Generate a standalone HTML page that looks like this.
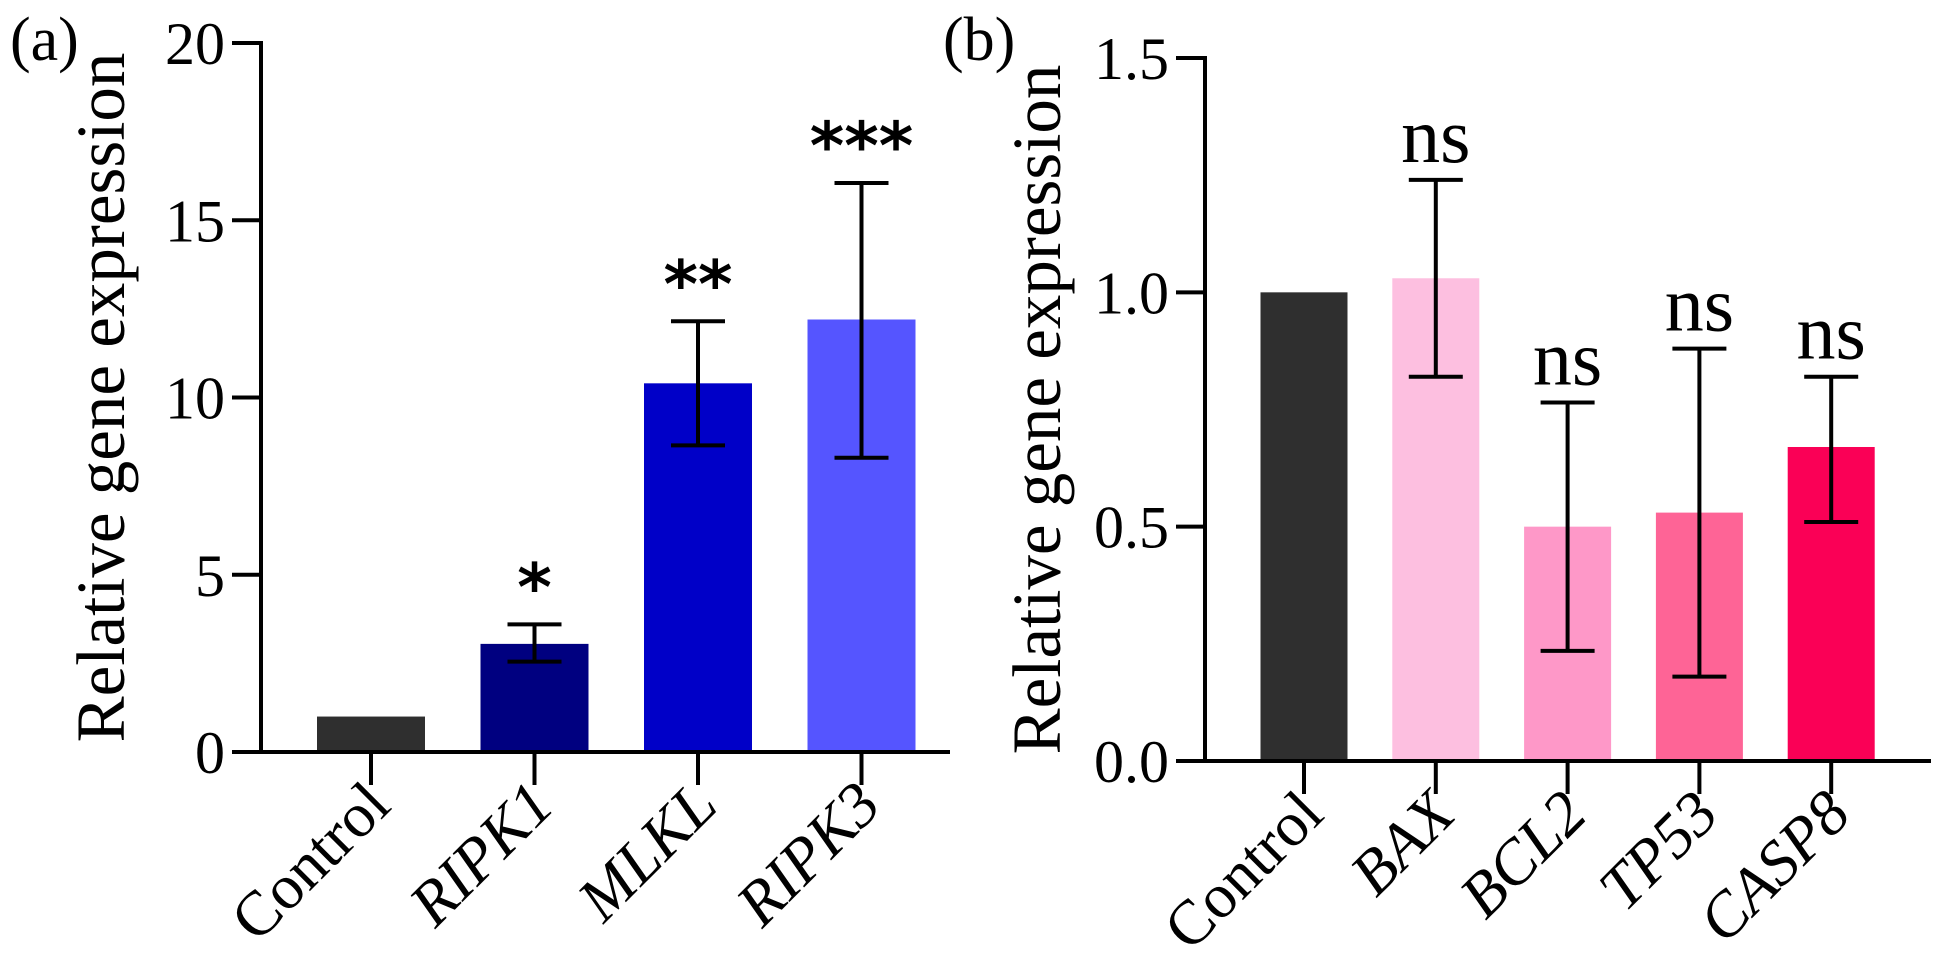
<!DOCTYPE html>
<html><head><meta charset="utf-8"><style>
html,body{margin:0;padding:0;background:#fff}
svg{display:block;font-family:"Liberation Serif",serif}
</style></head><body>
<svg id="chart" width="1933" height="979" viewBox="0 0 1933 979">
<g id="pa"></g>
<g id="pb"></g>
</svg>
<script>
const aCategories=["Control","RIPK1","MLKL","RIPK3"];
const aValues=[1,3.05,10.4,12.2];
const aErrLow=[1,2.55,8.65,8.3];
const aErrHigh=[1,3.6,12.15,16.05];
const aSig=["","*","**","***"];
const aTicks=[0,5,10,15,20];
const aColors=["#2f2f2f","#000080","#0000c8","#5555ff"];

const bCategories=["Control","BAX","BCL2","TP53","CASP8"];
const bValues=[1,1.03,0.5,0.53,0.67];
const bErrLow=[1,0.82,0.235,0.18,0.51];
const bErrHigh=[1,1.24,0.765,0.88,0.82];
const bSig=["","ns","ns","ns","ns"];
const bTicks=["0.0","0.5","1.0","1.5"];
const bColors=["#2f2f2f","#fdbfe0","#fe98c8","#fe6496","#fa0056"];

const NS="http://www.w3.org/2000/svg";
function mk(parent,tag,attrs,text){const e=document.createElementNS(NS,tag);for(const k in attrs)e.setAttribute(k,attrs[k]);if(text!==undefined)e.textContent=text;parent.appendChild(e);return e;}

function drawPanel(g,cfg){
  const y=v=>cfg.y0-(v-cfg.min)/(cfg.max-cfg.min)*(cfg.y0-cfg.yTop);
  const x=i=>cfg.x0+i*cfg.step;
  cfg.values.forEach((v,i)=>{
    const r=mk(g,'rect',{x:x(i)-cfg.bw/2,y:y(v),width:cfg.bw,height:cfg.y0-y(v),fill:cfg.colors[i]});
    
    
  });
  cfg.values.forEach((v,i)=>{
    if(cfg.hi[i]===cfg.lo[i])return;
    const eg=mk(g,'g',{stroke:'#000','stroke-width':4});
    
    
    mk(eg,'line',{x1:x(i),x2:x(i),y1:y(cfg.lo[i]),y2:y(cfg.hi[i])});
    mk(eg,'line',{x1:x(i)-27,x2:x(i)+27,y1:y(cfg.lo[i]),y2:y(cfg.lo[i])});
    mk(eg,'line',{x1:x(i)-27,x2:x(i)+27,y1:y(cfg.hi[i]),y2:y(cfg.hi[i])});
    const t=mk(g,'text',{x:x(i),y:y(cfg.hi[i])-cfg.sigGap,'text-anchor':'middle','font-size':cfg.sigSize,'font-family':cfg.sigFont,'font-weight':cfg.sigWeight},cfg.sig[i]);
    
    
  });
  const ax=mk(g,'g',{stroke:'#000','stroke-width':4,fill:'none'});
  
  
  mk(ax,'line',{x1:cfg.ax,x2:cfg.ax,y1:cfg.yTop-2,y2:cfg.y0+2});
  mk(ax,'line',{x1:cfg.ax-29,x2:cfg.xEnd,y1:cfg.y0,y2:cfg.y0});
  cfg.ticks.forEach(tk=>{
    const v=parseFloat(tk);
    if(v!==cfg.min)mk(ax,'line',{x1:cfg.ax-29,x2:cfg.ax,y1:y(v),y2:y(v)});
    const t=mk(g,'text',{x:cfg.ax-36,y:y(v)+21,'text-anchor':'end','font-size':60},tk);
    
    
  });
  cfg.cats.forEach((c,i)=>{
    mk(ax,'line',{x1:x(i),x2:x(i),y1:cfg.y0,y2:cfg.y0+33});
    const t=mk(g,'text',{transform:`translate(${x(i)+22},${cfg.y0+56}) rotate(-45)`,'text-anchor':'end','font-size':63,'font-style':i===0?'normal':'italic'},c);
    
    
  });
  const yt=mk(g,'text',{transform:`translate(${cfg.titleX},${(cfg.y0+cfg.yTop)/2}) rotate(-90)`,'text-anchor':'middle','font-size':69},'Relative gene expression');
  
  
  const pl=mk(g,'text',{x:cfg.labelX,y:60,'font-size':62},cfg.label);
  
  
}

drawPanel(document.getElementById('pa'),{cats:aCategories,values:aValues,lo:aErrLow,hi:aErrHigh,sig:aSig,colors:aColors,
  ticks:aTicks.map(String),min:0,max:20,y0:752,yTop:43,ax:261,xEnd:950,x0:371,step:163.5,bw:108,
  sigGap:14,sigSize:66,sigFont:'"DejaVu Sans",sans-serif',sigWeight:'bold',titleX:124,labelX:10,label:'(a)'});
drawPanel(document.getElementById('pb'),{cats:bCategories,values:bValues,lo:bErrLow,hi:bErrHigh,sig:bSig,colors:bColors,
  ticks:bTicks,min:0,max:1.5,y0:761,yTop:58,ax:1205,xEnd:1931,x0:1304,step:131.8,bw:87,
  sigGap:18,sigSize:78,sigFont:'"Liberation Serif",serif',sigWeight:'normal',titleX:1060,labelX:943,label:'(b)'});
</script>
</body></html>
